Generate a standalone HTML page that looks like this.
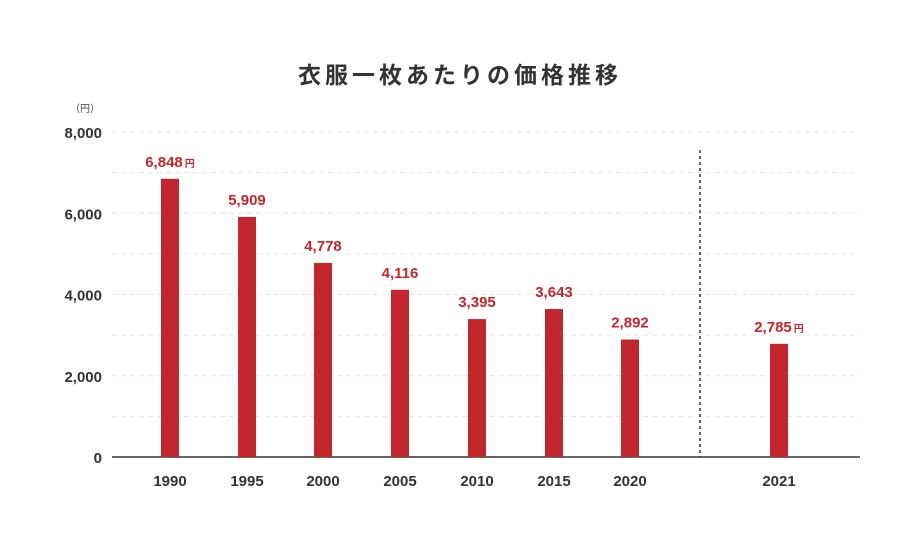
<!DOCTYPE html>
<html><head><meta charset="utf-8"><style>
body{margin:0;background:#fff;}
svg{display:block;font-family:"Liberation Sans","Noto Sans CJK JP",sans-serif;}
</style></head><body>
<svg id="chart" width="920" height="550">
<text x="460" y="83" text-anchor="middle" font-size="23" font-weight="bold" fill="#333" letter-spacing="4">衣服一枚あたりの価格推移</text>
<text x="100" y="112" text-anchor="end" font-size="10" fill="#444">（円）</text>
<g id="grid"></g><g id="bars"></g><g id="labels"></g>
</svg>
<script>
const categories=["1990","1995","2000","2005","2010","2015","2020","2021"];
const values=[6848,5909,4778,4116,3395,3643,2892,2785];
const valueLabels=["6,848","5,909","4,778","4,116","3,395","3,643","2,892","2,785"];
const yTicks=[0,2000,4000,6000,8000];
const yTickLabels=["0","2,000","4,000","6,000","8,000"];
const gridValues=[1000,2000,3000,4000,5000,6000,7000,8000];
const NS="http://www.w3.org/2000/svg";
const svg=document.getElementById('chart');
const y=v=>457-v*(325/8000);
const xPos=[170,247,323,400,477,554,630,779];
const x=i=>xPos[i];
function mk(t,a,p){const e=document.createElementNS(NS,t);for(const k in a)e.setAttribute(k,a[k]);p.appendChild(e);return e;}
const g=document.getElementById('grid');
gridValues.forEach(v=>{
const l=mk('line',{x1:112,x2:860,y1:y(v),y2:y(v),stroke:'#e6e6e6','stroke-dasharray':'5,4'},g);


});
yTicks.forEach((v,i)=>{
const t=mk('text',{x:102,y:y(v)+6,'text-anchor':'end','font-size':15,'font-weight':'bold',fill:'#333'},g);
t.textContent=yTickLabels[i];


});
const ax=mk('line',{x1:112,x2:860,y1:457,y2:457,stroke:'#333','stroke-width':1.5},g);


const dv=mk('line',{x1:700,x2:700,y1:150,y2:457,stroke:'#333','stroke-width':1.5,'stroke-dasharray':'3,3'},g);


const b=document.getElementById('bars'),lb=document.getElementById('labels');
values.forEach((v,i)=>{
const r=mk('rect',{x:x(i)-9,y:y(v),width:18,height:457-y(v),fill:'#c1272d'},b);


const t=mk('text',{x:x(i),y:y(v)-12,'text-anchor':'middle','font-size':15,'font-weight':'bold',fill:'#c1272d'},lb);
t.textContent=valueLabels[i];
if(i===0||i===values.length-1){const s=mk('tspan',{'font-size':10,dx:2},t);s.textContent='円';}


const c=mk('text',{x:x(i),y:486,'text-anchor':'middle','font-size':15,'font-weight':'bold',fill:'#333'},lb);
c.textContent=categories[i];


});
</script>
</body></html>
